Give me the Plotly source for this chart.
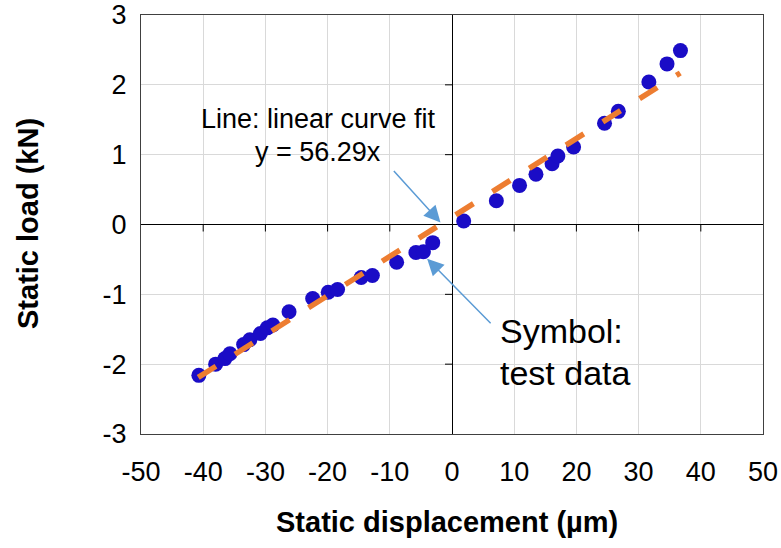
import plotly.graph_objects as go

# Test data (static displacement in µm, static load in kN)
disp_neg = [-40.7, -38.0, -36.5, -35.7, -33.5, -32.5, -30.8, -29.7, -28.8, -26.2,
            -22.4, -19.9, -18.4, -14.6, -12.8, -8.9, -5.8, -4.6, -3.1]
load_neg = [-2.16, -2.00, -1.92, -1.85, -1.72, -1.65, -1.56, -1.48, -1.44, -1.25,
            -1.06, -0.97, -0.93, -0.76, -0.73, -0.54, -0.40, -0.39, -0.26]
disp_pos = [1.88, 7.13, 10.86, 13.5, 16.09, 17.02, 19.55, 24.52, 26.74, 31.65, 34.57, 36.73]
load_pos = [0.05, 0.34, 0.56, 0.72, 0.87, 0.98, 1.11, 1.45, 1.62, 2.04, 2.30, 2.49]

# Linear curve fit line end points
fit_x = [-40.8, 36.7]
fit_y = [-2.19, 2.17]

x_ticks = [-50, -40, -30, -20, -10, 0, 10, 20, 30, 40, 50]
y_ticks = [-3, -2, -1, 0, 1, 2, 3]

FONT = "Liberation Sans, Arial, sans-serif"

fig = go.Figure()
fig.add_trace(go.Scatter(
    x=disp_neg + disp_pos, y=load_neg + load_pos, mode="markers",
    marker=dict(size=15, color="#1A0CC6", line=dict(width=0)),
    showlegend=False, hoverinfo="skip"))
fig.add_trace(go.Scatter(
    x=fit_x, y=fit_y, mode="lines",
    line=dict(color="#ED7D31", width=5.5, dash="21px,22.5px"),
    showlegend=False, hoverinfo="skip"))

shapes = []
for t in x_ticks:
    if t in (0, -50, 50):
        continue
    shapes.append(dict(type="line", xref="x", yref="y", ysizemode="pixel", yanchor=0,
                       x0=t, x1=t, y0=0, y1=-7, line=dict(color="black", width=1)))
for t in y_ticks:
    if t in (0, -3, 3):
        continue
    shapes.append(dict(type="line", xref="x", yref="y", xsizemode="pixel", xanchor=0,
                       x0=-7, x1=0, y0=t, y1=t, line=dict(color="black", width=1)))

arrow_color = "#5B9BD5"
annotations = [
    dict(x=-1.85, y=0.03, xref="x", yref="y", ax=-48, ay=-53, axref="pixel", ayref="pixel",
         text="", showarrow=True, arrowhead=2, arrowsize=2.2, arrowwidth=1.5,
         arrowcolor=arrow_color),
    dict(x=-4.0, y=-0.49, xref="x", yref="y", ax=65, ay=66, axref="pixel", ayref="pixel",
         text="", showarrow=True, arrowhead=2, arrowsize=2.2, arrowwidth=1.5,
         arrowcolor=arrow_color),
    dict(x=(318 - 141) / 622, y=(434 - 119) / 419, xref="paper", yref="paper",
         text="Line: linear curve fit", showarrow=False, xanchor="center", yanchor="middle",
         font=dict(family=FONT, size=27, color="black")),
    dict(x=(318 - 141) / 622, y=(434 - 152) / 419, xref="paper", yref="paper",
         text="y = 56.29x", showarrow=False, xanchor="center", yanchor="middle",
         font=dict(family=FONT, size=27, color="black")),
    dict(x=(498 - 141) / 622, y=(434 - 331) / 419, xref="paper", yref="paper",
         text="Symbol:", showarrow=False, xanchor="left", yanchor="middle",
         font=dict(family=FONT, size=34, color="black")),
    dict(x=(498 - 141) / 622, y=(434 - 373) / 419, xref="paper", yref="paper",
         text="test data", showarrow=False, xanchor="left", yanchor="middle",
         font=dict(family=FONT, size=34, color="black")),
    dict(x=(447 - 141) / 622, y=(434 - 522) / 419, xref="paper", yref="paper",
         text="<b>Static displacement (µm)</b>", showarrow=False,
         xanchor="center", yanchor="middle",
         font=dict(family=FONT, size=29, color="black")),
    dict(x=(28 - 141) / 622, y=(434 - 224) / 419, xref="paper", yref="paper",
         text="<b>Static load (kN)</b>", showarrow=False, textangle=-90,
         xanchor="center", yanchor="middle",
         font=dict(family=FONT, size=29, color="black")),
]

fig.update_layout(
    width=781, height=548,
    margin=dict(l=141, r=18, t=15, b=114, autoexpand=False),
    paper_bgcolor="white", plot_bgcolor="white",
    shapes=shapes, annotations=annotations,
    font=dict(family=FONT, color="black"),
)
fig.update_xaxes(
    range=[-50, 50], tickvals=x_ticks, ticktext=[str(v) for v in x_ticks],
    showgrid=True, gridcolor="#D9D9D9", gridwidth=1,
    zeroline=True, zerolinecolor="black", zerolinewidth=1,
    showline=True, linecolor="#404040", linewidth=1, mirror=True,
    ticks="", ticklabelstandoff=14, automargin=False,
    tickfont=dict(family=FONT, size=27, color="black"),
)
fig.update_yaxes(
    range=[-3, 3], tickvals=y_ticks, ticktext=[str(v) for v in y_ticks],
    showgrid=True, gridcolor="#D9D9D9", gridwidth=1,
    zeroline=True, zerolinecolor="black", zerolinewidth=1,
    showline=True, linecolor="#404040", linewidth=1, mirror=True,
    ticks="", ticklabelstandoff=8, automargin=False,
    tickfont=dict(family=FONT, size=27, color="black"),
)

fig.write_html("out.html")
